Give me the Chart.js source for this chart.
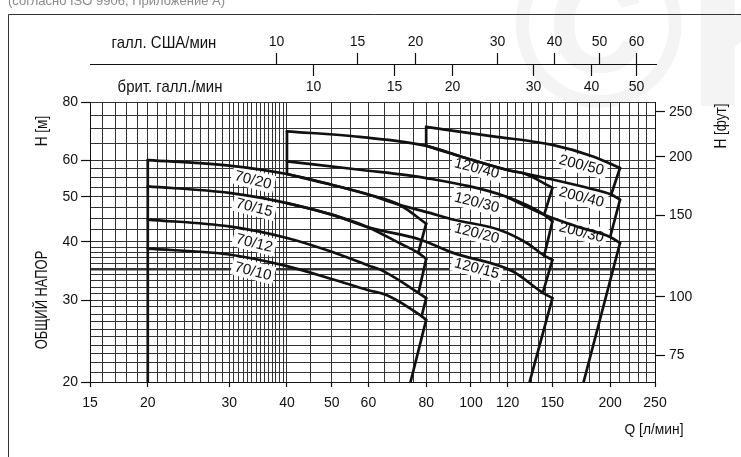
<!DOCTYPE html>
<html>
<head>
<meta charset="utf-8">
<script src="https://cdn.jsdelivr.net/npm/chart.js@4/dist/chart.umd.min.js"></script>
<style>
  html, body { margin: 0; padding: 0; background: #fff; }
  canvas { display: block; }
</style>
</head>
<body>
<canvas id="chart" width="741" height="457"></canvas>
<script>
// Pump performance curves: flow Q [l/min] vs. total head H [m], log-log.
// Each curve is a list of [Q, H] points.
const curve70_20 = [[20,60],[30,58.4],[40,56.0],[50,53.1],[60,50.6],[70,48.1],[80,43.8]];
const curve70_15 = [[20,52.7],[30,51.0],[40,48.5],[50,45.8],[60,43.0],[70,39.8],[76.9,37.9],[80,36.8]];
const curve70_12 = [[20,44.7],[30,43.2],[40,40.8],[50,38.1],[60,35.6],[64,34.8],[77,31.1],[80,30.3]];
const curve70_10 = [[20,38.7],[30,37.6],[40,35.5],[50,33.3],[60,31.5],[66,30.7],[78.2,27.7],[80,27.2]];

const curve120_40 = [[40,69.2],[57.5,67.3],[80,64.4],[95,61.1],[121,57.0],[130,56.2],[150,52.3]];
const curve120_30 = [[40,59.6],[57.5,57.2],[80,54.9],[119,50.1],[144,45.8],[150,44.3]];
const curve120_20 = [[40,56.0],[50,53.1],[60,50.6],[70,48.1],[81.5,46.2],[91.5,44.7],[115,42.5],[132,39.8],[144,37.4],[150,36.6]];
const curve120_15 = [[40,48.5],[50,45.8],[60,43.0],[77.5,40.5],[91.5,37.9],[123,34.6],[143,31.1],[150,30.3]];

const curve200_50 = [[80,70.7],[111.6,67.5],[150,64.7],[183.6,61.1],[210,57.7]];
const curve200_40 = [[80,64.4],[95,61.1],[121,57.0],[130,56.2],[150,54.5],[180,52.2],[201,50.6],[210,49.3]];
const curve200_30 = [[119,50.1],[144,45.8],[172,43.0],[200,41.0],[210,39.8]];

// Start lines (minimum flow) and end-of-curve limit lines
const start70  = [[20,20],[20,60]];
const start120 = [[40,56.0],[40,69.2]];
const start200 = [[80,64.4],[80,70.7]];
const limit70  = [[80,43.8],[76.9,37.9], null, [80,36.8],[77,31.1], null, [80,30.3],[78.2,27.7], null, [80,27.2],[74,20]];
const limit120 = [[150,52.3],[144,45.8], null, [150,44.3],[144,37.4], null, [150,36.6],[143,31.1], null, [150,30.3],[133.9,20]];
const limit200 = [[210,57.7],[201,50.6], null, [210,49.3],[200,41.0], null, [210,39.8],[175.2,20]];

// Curve names and where they are written (Q, H of the label centre)
const curveNames = ['70/20','70/15','70/12','70/10','120/40','120/30','120/20','120/15','200/50','200/40','200/30'];
const nameQ = [33.8,34,34,33.8, 103,103,103,103, 173.5,173.5,173.5];
const nameH = [54.5,47.6,39.9,34.7, 57.8,48.8,41.9,35.2, 58.7,50.1,42.1];

// Axis tick labels
const qLabels  = [15,20,30,40,50,60,80,100,120,150,200,250];
const hLabels  = [20,30,40,50,60,80];
const ftLabels = [75,100,150,200,250];
const usGalLabels = [10,15,20,30,40,50,60];
const ukGalLabels = [10,15,20,30,40,50];

// Grid line values
const qGrid = [];
for (let v = 15; v < 30; v++) qGrid.push(v);
for (let k = 0; k < 14; k++) qGrid.push(30 + k * 10 / 14);
for (let v = 40; v <= 150; v += 5) qGrid.push(v);
for (let v = 160; v <= 250; v += 10) qGrid.push(v);
const hGrid = [];
for (let v = 20; v <= 40; v++) hGrid.push(v);
for (let v = 42.5; v <= 60; v += 2.5) hGrid.push(v);
for (let v = 65; v <= 80; v += 5) hGrid.push(v);

const L_PER_US_GAL = 3.78541;
const L_PER_UK_GAL = 4.54609;
const M_PER_FT = 0.3048;

const SANS = "'Liberation Sans', Arial, sans-serif";
const INK = '#111';
const GRID = '#333';

const toPts = arr => arr.map(p => p ? { x: p[0], y: p[1] } : { x: null, y: null });

function curveSet(arr, smooth) {
  return {
    data: toPts(arr),
    borderColor: INK,
    borderWidth: 2.7,
    pointRadius: 0,
    fill: false,
    spanGaps: false,
    cubicInterpolationMode: smooth ? 'monotone' : 'default',
    tension: 0,
    borderCapStyle: 'round',
    borderJoinStyle: 'round'
  };
}

const datasets = [
  curveSet(curve70_20, true), curveSet(curve70_15, true), curveSet(curve70_12, true), curveSet(curve70_10, true),
  curveSet(curve120_40, true), curveSet(curve120_30, true), curveSet(curve120_20, true), curveSet(curve120_15, true),
  curveSet(curve200_50, true), curveSet(curve200_40, true), curveSet(curve200_30, true),
  curveSet(start70, false), curveSet(start120, false), curveSet(start200, false),
  curveSet(limit70, false), curveSet(limit120, false), curveSet(limit200, false)
];

const labelled = list => ctx => (ctx.tick && list.includes(ctx.tick.value)) ? INK : 'rgba(0,0,0,0)';

// Condensed text, rotated by `angle`, centred on (x, y)
function narrowText(c, text, x, y, size, angle, squeeze) {
  c.save();
  c.translate(x, y);
  c.rotate(angle);
  c.scale(squeeze, 1);
  c.font = size + 'px ' + SANS;
  c.textAlign = 'center';
  c.textBaseline = 'middle';
  c.fillText(text, 0, 0);
  c.restore();
}

// Background: faint watermark, caption and frame
const framePlugin = {
  id: 'frame',
  beforeDraw(chart) {
    const c = chart.ctx;
    c.save();
    c.fillStyle = '#fff';
    c.fillRect(0, 0, chart.width, chart.height);
    c.fillStyle = 'rgba(0,0,0,0.045)';
    c.font = "bold 235px " + SANS;
    c.textBaseline = 'alphabetic';
    c.fillText('\u00A9K', 512, 106);
    c.fillStyle = '#8a8a8a';
    c.font = "13px " + SANS;
    c.fillText('(согласно ISO 9906, Приложение A)', 8, 5);
    c.strokeStyle = '#333';
    c.lineWidth = 1;
    c.beginPath();
    c.moveTo(8.5, chart.height);
    c.lineTo(8.5, 14.5);
    c.lineTo(chart.width, 14.5);
    c.stroke();
    c.restore();
  }
};

// Curve names on white plates, under the curves
const namesPlugin = {
  id: 'names',
  beforeDatasetsDraw(chart) {
    const c = chart.ctx;
    const xs = chart.scales.x, ys = chart.scales.y;
    c.save();
    c.font = "15px " + SANS;
    c.textAlign = 'center';
    c.textBaseline = 'middle';
    curveNames.forEach((t, i) => {
      const px = xs.getPixelForValue(nameQ[i]);
      const py = ys.getPixelForValue(nameH[i]);
      const w = c.measureText(t).width;
      c.save();
      c.translate(px, py);
      c.rotate(0.25);
      c.fillStyle = '#fff';
      c.fillRect(-w / 2 - 3, -9, w + 6, 18);
      c.fillStyle = INK;
      c.fillText(t, 0, 1);
      c.restore();
    });
    c.restore();
  }
};

// Gallon scales above the plot and the axis titles
const extrasPlugin = {
  id: 'extras',
  afterDraw(chart) {
    const c = chart.ctx;
    const xs = chart.scales.x;
    const area = chart.chartArea;
    const lineY = 64.5;
    c.save();
    c.strokeStyle = INK;
    c.fillStyle = INK;
    c.lineWidth = 1.2;
    c.beginPath();
    c.moveTo(area.left, lineY);
    c.lineTo(area.right + 2, lineY);
    c.stroke();
    c.font = "14px " + SANS;
    c.textAlign = 'center';
    c.textBaseline = 'middle';
    usGalLabels.forEach(g => {
      const x = Math.round(xs.getPixelForValue(g * L_PER_US_GAL)) + 0.5;
      c.beginPath(); c.moveTo(x, lineY); c.lineTo(x, 53); c.stroke();
      c.fillText(String(g), x, 42);
    });
    ukGalLabels.forEach(g => {
      const x = Math.round(xs.getPixelForValue(g * L_PER_UK_GAL)) + 0.5;
      c.beginPath(); c.moveTo(x, lineY); c.lineTo(x, 76); c.stroke();
      c.fillText(String(g), x, 87);
    });

    narrowText(c, 'галл. США/мин', 164, 43, 17, 0, 0.88);
    narrowText(c, 'брит. галл./мин', 170, 87, 17, 0, 0.88);
    narrowText(c, 'Q [л/мин]', 654, 430, 15, 0, 0.92);
    narrowText(c, 'H [м]', 42, 131, 17, -Math.PI / 2, 0.8);
    narrowText(c, 'ОБЩИЙ НАПОР', 42, 300, 17, -Math.PI / 2, 0.76);
    narrowText(c, 'H [фут]', 721, 126, 17, -Math.PI / 2, 0.8);
    c.restore();
  }
};

const tickFont = { family: SANS, size: 14 };

new Chart(document.getElementById('chart'), {
  type: 'line',
  data: { datasets },
  options: {
    responsive: false,
    animation: false,
    layout: { padding: { top: 102, left: 0, right: 0, bottom: 0 } },
    plugins: { legend: { display: false }, tooltip: { enabled: false } },
    scales: {
      x: {
        type: 'logarithmic',
        position: 'bottom',
        min: 15, max: 250,
        afterBuildTicks: s => { s.ticks = qGrid.map(v => ({ value: v })); },
        afterFit: s => { s.height = 75; },
        grid: {
          color: GRID, lineWidth: 1,
          tickLength: 5, tickColor: labelled(qLabels), tickWidth: 1.2
        },
        border: { display: true, color: INK, width: 1 },
        ticks: {
          autoSkip: false, maxRotation: 0, padding: 8, color: INK, font: tickFont,
          callback: v => qLabels.includes(v) ? String(v) : ''
        }
      },
      y: {
        type: 'logarithmic',
        position: 'left',
        min: 20, max: 80,
        afterBuildTicks: s => { s.ticks = hGrid.map(v => ({ value: v })); },
        afterFit: s => { s.width = 90; },
        grid: {
          color: GRID,
          lineWidth: ctx => (ctx.tick && ctx.tick.value === 35) ? 2.5 : 1,
          tickLength: 9, tickColor: labelled(hLabels), tickWidth: 1.2
        },
        border: { display: true, color: INK, width: 1 },
        ticks: {
          autoSkip: false, padding: 3, color: INK, font: tickFont,
          callback: v => hLabels.includes(v) ? String(v) : ''
        }
      },
      yFt: {
        type: 'logarithmic',
        position: 'right',
        min: 20 / M_PER_FT, max: 80 / M_PER_FT,
        afterBuildTicks: s => { s.ticks = ftLabels.map(v => ({ value: v })); },
        afterFit: s => { s.width = 86; },
        grid: { drawOnChartArea: false, tickLength: 10, tickColor: INK, tickWidth: 1.2 },
        border: { display: true, color: INK, width: 1 },
        ticks: {
          autoSkip: false, padding: 4, color: INK, font: tickFont,
          callback: v => String(v)
        }
      }
    }
  },
  plugins: [framePlugin, namesPlugin, extrasPlugin]
});
</script>
</body>
</html>
